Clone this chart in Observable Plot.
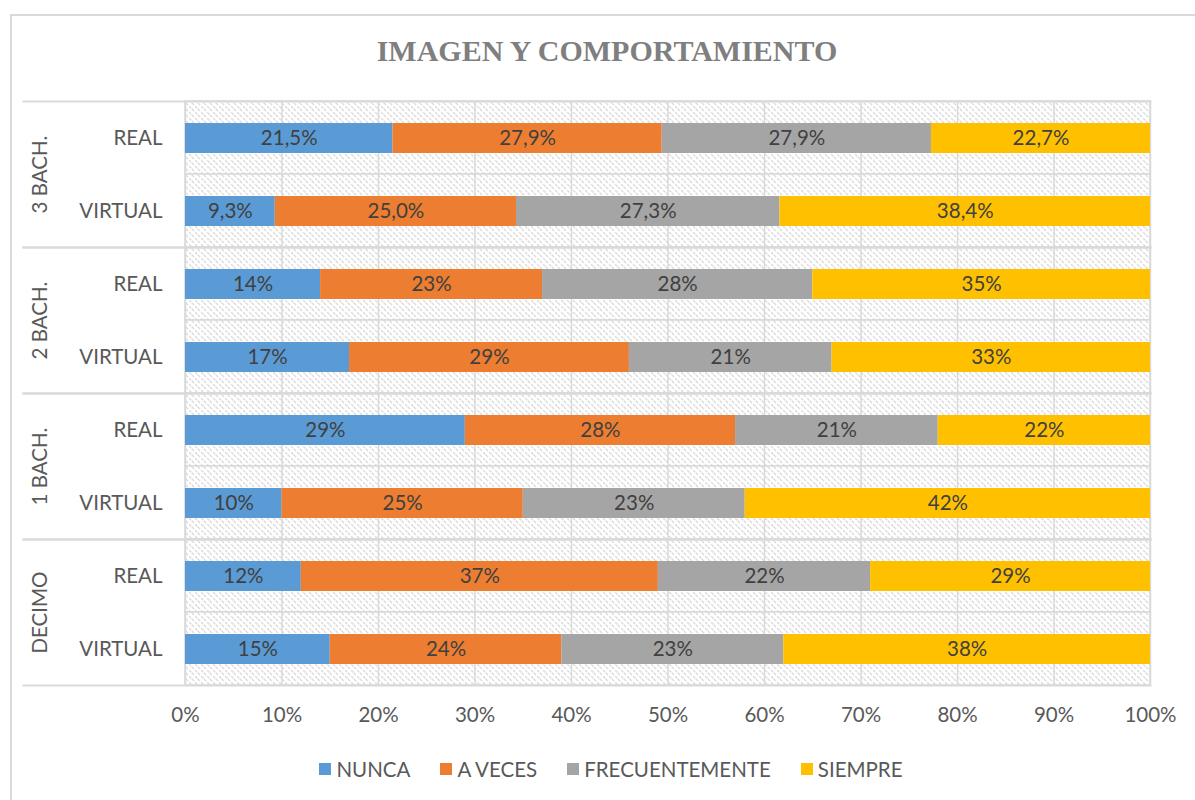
<!DOCTYPE html>
<html><head><meta charset="utf-8">
<script src="https://cdn.jsdelivr.net/npm/d3@7"></script>
<script src="https://cdn.jsdelivr.net/npm/@observablehq/plot@0.6"></script>
<style>
body{margin:0;background:#fff;font-family:Lato,"Open Sans",sans-serif;}
#frame{position:absolute;left:10px;top:14px;width:1194px;height:820px;border:2px solid #d9d9d9;box-sizing:border-box;}
#title{position:absolute;left:10px;top:34px;width:1194px;text-align:center;font-family:"Liberation Serif","Times New Roman",serif;font-weight:bold;font-size:30px;color:#7f7f7f;}
#chart{position:absolute;left:0;top:0;}
#legend{position:absolute;left:10px;top:757px;width:1202px;display:flex;justify-content:center;gap:30px;font-size:20.5px;color:#595959;}
#legend span.item{display:flex;align-items:center;}
#legend i{display:inline-block;width:12px;height:12px;margin-right:5px;}
</style></head>
<body>
<div id="frame"></div>
<div id="title">IMAGEN Y COMPORTAMIENTO</div>
<div id="chart"></div>
<div id="legend"></div>
<script>
const groups = ["3 BACH.", "2 BACH.", "1 BACH.", "DECIMO"];
const types = ["REAL", "VIRTUAL"];
const responses = ["NUNCA", "A VECES", "FRECUENTEMENTE", "SIEMPRE"];
const colors = ["#5B9BD5", "#ED7D31", "#A5A5A5", "#FFC000"];
const decimals = [1, 0, 0, 0];
// percentages per group, per type (REAL, VIRTUAL), per response
const nunca     = [[21.5, 9.3], [14, 17], [29, 10], [12, 15]];
const aVeces    = [[27.9, 25.0], [23, 29], [28, 25], [37, 24]];
const frecuente = [[27.9, 27.3], [28, 21], [21, 23], [22, 23]];
const siempre   = [[22.7, 38.4], [35, 33], [22, 42], [29, 38]];
const xTicks = [0, 0.1, 0.2, 0.3, 0.4, 0.5, 0.6, 0.7, 0.8, 0.9, 1];

const series = [nunca, aVeces, frecuente, siempre];
const data = [];
const cells = [];
groups.forEach((g, gi) => {
  types.forEach((t, ti) => {
    cells.push({group: g, type: t});
    responses.forEach((r, ri) => {
      const v = series[ri][gi][ti];
      data.push({group: g, type: t, resp: r, value: v / 100,
        label: v.toFixed(decimals[gi]).replace(".", ",") + "%"});
    });
  });
});

const FS = 20.5;
const plot = Plot.plot({
  width: 1195, height: 740,
  marginTop: 100, marginBottom: 54, marginLeft: 185, marginRight: 45,
  style: {fontFamily: "Lato, 'Open Sans', sans-serif", fontSize: FS + "px", color: "#595959", background: "transparent"},
  x: {domain: [0, 1], axis: null},
  y: {domain: types, padding: 0, axis: null},
  fy: {domain: groups, padding: 0, axis: null},
  color: {domain: responses, range: colors},
  marks: [
    Plot.barX(cells, {x1: 0, x2: 1, y: "type", fy: "group", fill: "url(#hatch)", stroke: "#d9d9d9", strokeWidth: 1.5}),
    Plot.gridX(xTicks, {stroke: "#d9d9d9", strokeOpacity: 1, strokeWidth: 1.5}),
    Plot.frame({anchor: "top", insetLeft: -162, stroke: "#d9d9d9", strokeWidth: 2}),
    Plot.frame({anchor: "bottom", insetLeft: -162, stroke: "#d9d9d9", strokeWidth: 2}),
    Plot.barX(data, Plot.stackX({x: "value", y: "type", fy: "group", fill: "resp", z: "resp", order: responses, insetTop: 22, insetBottom: 21})),
    Plot.text(data, Plot.stackX({x: "value", y: "type", fy: "group", z: "resp", text: "label", order: responses, fill: "#404040", fontSize: FS})),
    Plot.axisY({tickSize: 0, tickPadding: 23, fontSize: FS, fill: "#595959", label: null}),
    Plot.text(groups, {fy: d => d, text: d => d, frameAnchor: "left", rotate: -90, dx: -145, textAnchor: "middle", lineAnchor: "middle", fill: "#595959", fontSize: FS}),
    Plot.axisX({ticks: xTicks, tickFormat: d => Math.round(d * 100) + "%", tickSize: 0, tickPadding: 22, fontSize: FS, fill: "#595959", label: null})
  ]
});

const svg = d3.select(plot);
const defs = svg.insert("defs", ":first-child");
const pat = defs.append("pattern").attr("id", "hatch").attr("patternUnits", "userSpaceOnUse").attr("width", 6).attr("height", 6);
pat.append("rect").attr("width", 6).attr("height", 6).attr("fill", "#fff");
pat.append("path").attr("d", "M0,0L6,6M-1,5L1,7M5,-1L7,1").attr("stroke", "#dadada").attr("stroke-width", 1.3).attr("stroke-dasharray", "3,1.5");
document.getElementById("chart").appendChild(plot);

const legend = d3.select("#legend");
responses.forEach((r, i) => {
  const it = legend.append("span").attr("class", "item");
  it.append("i").style("background", colors[i]);
  it.append("span").text(r);
});
</script>
</body></html>
